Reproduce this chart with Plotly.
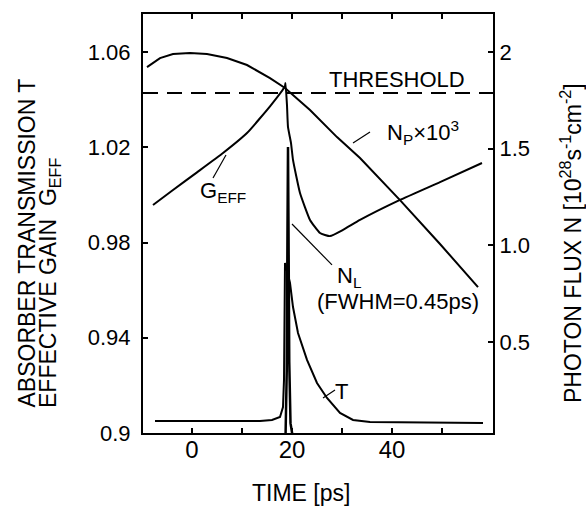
import plotly.graph_objects as go

# ---- data ----
# pump photon flux N_p x 10^3 (right axis)
np_time = [-9.0, -6.4, -3.8, -0.4, 3.0, 7.0, 11.0, 15.6, 18.6, 23.6, 29.0, 33.6, 41.6, 49.6, 57.2]
np_flux = [1.922, 1.969, 1.990, 1.995, 1.990, 1.969, 1.933, 1.865, 1.814, 1.700, 1.560, 1.452, 1.234, 1.007, 0.784]

# laser photon flux N_L (right axis), narrow spike
nl_time = [18.7, 18.95, 19.1, 19.2, 19.3, 19.45, 19.7, 20.2]
nl_flux = [0.0, 0.35, 1.10, 1.509, 1.10, 0.40, 0.08, 0.0]

# effective gain G_EFF (left axis)
g_time = [-7.8, -3.8, 1.0, 6.2, 11.0, 15.6, 18.6, 18.7, 19.0, 19.2, 19.8, 20.2, 21.6, 23.6, 25.6, 27.6, 30.2, 33.6, 41.6, 49.6, 58.0]
g_eff = [0.9958, 1.0021, 1.0095, 1.0176, 1.0260, 1.0372, 1.0457, 1.0470, 1.0376, 1.0285, 1.0218, 1.0147, 1.0008, 0.9895, 0.9840, 0.9827, 0.9853, 0.9895, 0.9979, 1.0054, 1.0134]

# absorber transmission T (left axis)
t_time = [-7.4, 13.6, 16.0, 17.6, 18.2, 18.4, 18.6, 18.8, 19.6, 20.2, 21.2, 23.0, 25.0, 27.0, 29.6, 32.2, 35.6, 58.2]
t_trans = [0.9050, 0.9050, 0.9055, 0.9067, 0.9109, 0.9223, 0.9714, 0.9700, 0.9630, 0.9529, 0.9420, 0.9307, 0.9210, 0.9147, 0.9084, 0.9055, 0.9046, 0.9042]

threshold = 1.0428

x_ticks = [0, 20, 40]
y_ticks = [0.9, 0.94, 0.98, 1.02, 1.06]
y_ticktext = ["0.9", "0.94", "0.98", "1.02", "1.06"]
y2_ticks = [0.5, 1.0, 1.5, 2.0]
y2_ticktext = ["0.5", "1.0", "1.5", "2"]

FONT = "Liberation Sans, Arial, Helvetica, sans-serif"
LW = 2

fig = go.Figure()
fig.add_trace(go.Scatter(x=[-9.8, 60.2], y=[threshold, threshold], mode="lines",
                         line=dict(color="black", width=2, dash="15px,9px"), yaxis="y"))
fig.add_trace(go.Scatter(x=t_time, y=t_trans, mode="lines", line=dict(color="black", width=LW), yaxis="y"))
fig.add_trace(go.Scatter(x=g_time, y=g_eff, mode="lines", line=dict(color="black", width=LW, shape="spline", smoothing=0.4), yaxis="y"))
fig.add_trace(go.Scatter(x=np_time, y=np_flux, mode="lines", line=dict(color="black", width=LW), yaxis="y2"))
fig.add_trace(go.Scatter(x=nl_time, y=nl_flux, mode="lines", line=dict(color="black", width=2.5), yaxis="y2"))

# leader lines (data coordinates, left axis)
leaders = [
    (32.2, 1.0218, 35.6, 1.0264),  # N_p
    (4.2, 1.0071, 6.8, 1.0168),    # G_EFF
    (20.0, 0.9878, 28.0, 0.9706),  # N_L
    (26.2, 0.9147, 28.6, 0.9181),  # T
]
for x0, y0, x1, y1 in leaders:
    fig.add_shape(type="line", x0=x0, y0=y0, x1=x1, y1=y1, xref="x", yref="y",
                  line=dict(color="black", width=1.2))

tf = dict(family=FONT, size=22, color="black")
labels = [
    ("THRESHOLD", 27.0, 1.0483),
    ("N<sub>P</sub>×10<sup>3</sup>", 38.6, 1.0264),
    ("G<sub>EFF</sub>", 1.2, 1.0014),
    ("N<sub>L</sub>", 28.6, 0.9655),
    ("(FWHM=0.45ps)", 24.6, 0.9552),
    ("T", 28.2, 0.9174),
]
for txt, x, y in labels:
    fig.add_annotation(text=txt, x=x, y=y, xref="x", yref="y", xanchor="left", yanchor="middle",
                       showarrow=False, font=tf)

# axis titles
title_font = dict(family=FONT, size=23, color="black")
fig.add_annotation(text="TIME [ps]", x=(301 - 143) / 350, y=(433 - 493) / 419, xref="paper", yref="paper",
                   xanchor="center", yanchor="middle", showarrow=False,
                   font=dict(family=FONT, size=23, color="black"))
fig.add_annotation(text="ABSORBER TRANSMISSION T", x=(26 - 143) / 350, y=(433 - 410) / 419,
                   xref="paper", yref="paper", xanchor="center", yanchor="bottom", textangle=-90,
                   showarrow=False, font=title_font)
fig.add_annotation(text="EFFECTIVE GAIN  G<sub>EFF</sub>", x=(49 - 143) / 350, y=(433 - 410) / 419,
                   xref="paper", yref="paper", xanchor="center", yanchor="bottom", textangle=-90,
                   showarrow=False, font=title_font)
fig.add_annotation(text="PHOTON FLUX N [10<sup>28</sup>s<sup>-1</sup>cm<sup>-2</sup>]", x=(571 - 143) / 350,
                   y=(433 - 405) / 419, xref="paper", yref="paper", xanchor="center", yanchor="bottom",
                   textangle=-90, showarrow=False, font=title_font)

axis_common = dict(showline=True, linecolor="black", linewidth=2, showgrid=False, zeroline=False,
                   ticks="inside", ticklen=5, tickwidth=1.5, tickcolor="black")

fig.update_layout(
    width=586, height=508,
    margin=dict(l=143, r=93, t=14, b=75),
    paper_bgcolor="white", plot_bgcolor="white",
    showlegend=False,
    font=dict(family=FONT, color="black"),
    xaxis=dict(range=[-9.8, 60.2], tickvals=x_ticks, mirror="ticks", ticklabelstandoff=-6,
               minor=dict(dtick=10, tick0=0, ticks="inside", ticklen=5, tickcolor="black"),
               tickfont=dict(family=FONT, size=24, color="black"), **axis_common),
    yaxis=dict(range=[0.9, 1.076], tickvals=y_ticks, ticktext=y_ticktext, ticklabelstandoff=6,
               tickfont=dict(family=FONT, size=22, color="black"), **axis_common),
    yaxis2=dict(range=[0.029, 2.197], overlaying="y", side="right", tickvals=y2_ticks, ticktext=y2_ticktext,
                ticklabelstandoff=0, tickfont=dict(family=FONT, size=22, color="black"), **axis_common),
)

fig.write_html("out.html")
